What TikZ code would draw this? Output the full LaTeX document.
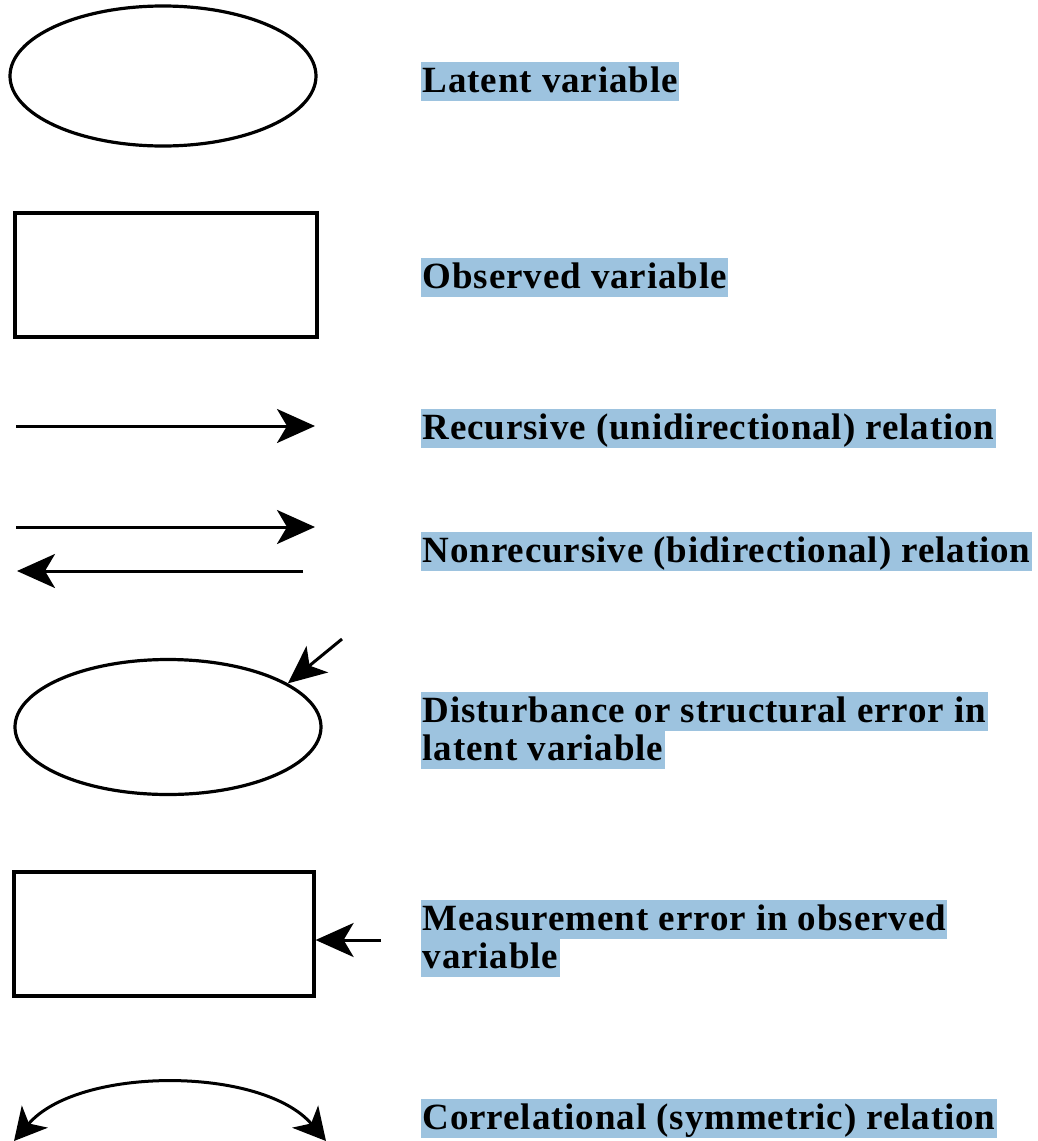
\documentclass[tikz,border=0pt]{standalone}
\usepackage{fontspec}
\setmainfont{Liberation Serif}
\newfontfamily\legendfont[LetterSpace=2.4]{Liberation Serif}
\usetikzlibrary{shapes.geometric,arrows.meta}
\definecolor{hl}{RGB}{157,195,223}
\begin{document}
\begin{tikzpicture}[x=1pt,y=-1pt,
  shapeline/.style={draw=black,line width=3.2pt},
  latentvar/.style={shapeline,ellipse,inner sep=0pt},
  observedvar/.style={shapeline,rectangle,inner sep=0pt},
  arr/.style={line width=3pt,-{Stealth[length=38pt,width=34pt,inset=10pt]}},
  biarr/.style={line width=3pt,{Stealth[length=32pt,width=34pt,inset=9pt]}-{Stealth[length=32pt,width=34pt,inset=9pt]}},
  legendtext/.style={fill=hl,anchor=base west,inner xsep=1.5pt,inner ysep=0.5pt,
    text height=30pt,text depth=8pt,font=\legendfont\fontsize{37}{40}\selectfont\bfseries}]
\useasboundingbox (0,0) rectangle (1038,1141);

% shapes of the legend
\node[latentvar,minimum width=306pt,minimum height=140pt] (lat) at (163,76) {};
\node[observedvar,minimum width=302pt,minimum height=124pt] (obs) at (166,275) {};

% recursive relation
\coordinate (r1a) at (16,426);
\coordinate (r1b) at (315,426);
\draw[arr] (r1a) -- (r1b);

% nonrecursive relation
\coordinate (n1a) at (16,527);
\coordinate (n1b) at (315,527);
\coordinate (n2a) at (303,571);
\coordinate (n2b) at (17,571);
\draw[arr] (n1a) -- (n1b);
\draw[arr] (n2a) -- (n2b);

% disturbance on a latent variable
\node[latentvar,minimum width=306pt,minimum height=135pt] (dist) at (168,727) {};
\coordinate (dtail) at (342,639);
\draw[arr] (dtail) -- (dist.20);

% measurement error on an observed variable
\node[observedvar,minimum width=300pt,minimum height=124pt] (meas) at (164,934) {};
\coordinate (mtail) at (381,940);
\draw[arr] (mtail) -- (mtail -| meas.east);

% correlational relation
\coordinate (cl) at (14,1141);
\coordinate (cr) at (326,1141);
\draw[biarr] (cl) .. controls (78,1066) and (262,1066) .. (cr);

% labels
\node[legendtext] (t1) at (421,92) {Latent variable};
\node[legendtext] (t2) at (421,288) {Observed variable};
\node[legendtext] (t3) at (421,439) {Recursive (unidirectional) relation};
\node[legendtext] (t4) at (421,562) {Nonrecursive (bidirectional) relation};
\node[legendtext] (t5a) at (421,722) {Disturbance or structural error in};
\node[legendtext] (t5b) at (421,760) {latent variable};
\node[legendtext] (t6a) at (421,930) {Measurement error in observed};
\node[legendtext] (t6b) at (421,968) {variable};
\node[legendtext] (t7) at (421,1129) {Correlational (symmetric) relation};
\end{tikzpicture}
\end{document}
